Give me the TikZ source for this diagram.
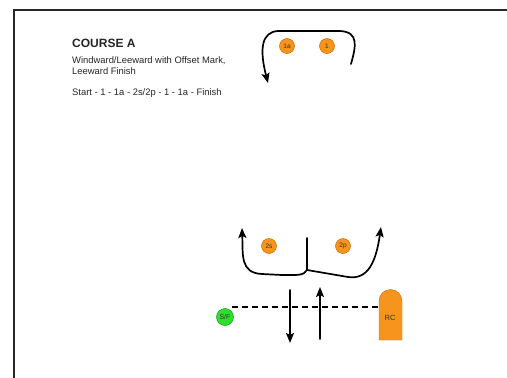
\documentclass[tikz,border=0pt]{standalone}
\usepackage{fontspec}
\setmainfont{Liberation Sans}
\usetikzlibrary{arrows.meta}
\definecolor{mkorange}{HTML}{F7941D}
\definecolor{mkedge}{HTML}{C86E00}
\definecolor{sfgreen}{HTML}{2EE02E}
\definecolor{sfedge}{HTML}{159A15}
\begin{document}
\begin{tikzpicture}[x=1pt,y=-1pt,
  buoy/.style={circle,fill=mkorange,draw=mkedge,line width=0.5pt,minimum size=15pt,inner sep=0pt,font=\fontsize{6.5}{7}\selectfont,text=black!80},
  course/.style={line width=1.7pt,line cap=round},
  crs/.style={course,-{Stealth[length=10pt,width=8pt,inset=2pt]}},
  lbl/.style={anchor=west,inner sep=0pt,text=black!85}]
\useasboundingbox (0,0) rectangle (507,378);
\fill[white] (0,0) rectangle (507,378);
% frame
\draw[line width=2pt,black!85] (507,10) -- (14,10) -- (14,378);
% texts
\node[lbl,font=\bfseries\fontsize{12}{14}\selectfont] (title) at (72,43) {COURSE A};
\node[lbl,font=\fontsize{9.4}{11}\selectfont] (sub1) at (72,61) {Windward/Leeward with Offset Mark,};
\node[lbl,font=\fontsize{9.4}{11}\selectfont] (sub2) at (72,71.5) {Leeward Finish};
\node[lbl,font=\fontsize{9.4}{11}\selectfont] (seq) at (72,93) {Start - 1 - 1a - 2s/2p - 1 - 1a - Finish};
% marks
\node[buoy] (m1a) at (287,46) {1a};
\node[buoy] (m1) at (327,46) {1};
\node[buoy] (m2s) at (269,246) {2s};
\node[buoy] (m2p) at (343,246) {2p};
\node[circle,fill=sfgreen,draw=sfedge,line width=0.5pt,minimum size=17pt,inner sep=0pt,font=\fontsize{7}{8}\selectfont,text=black!80] (sf) at (225,317) {S/F};
% committee boat
\fill[mkorange,draw=mkedge,line width=0.4pt] (379,340) -- (379,301) arc[start angle=180,end angle=360,radius=11.5] -- (402,340) -- cycle;
\node[font=\fontsize{7.5}{8}\selectfont,text=black!80] (rc) at (390,318) {RC};
% named endpoints
\coordinate (s1) at (351,64);
\coordinate (e1) at (268,83);
\coordinate (jtop) at (307,238);
\coordinate (jbot) at (307,270);
\coordinate (e2s) at (242,228);
\coordinate (e2p) at (381,227);
\coordinate (dn1) at (290,290);
\coordinate (dn2) at (290,343);
\coordinate (up1) at (320,339);
\coordinate (up2) at (320,287);
\coordinate (lineL) at (232,307);
\coordinate (lineR) at (379,307);
% start/finish line
\draw[line width=1.4pt,dash pattern=on 6pt off 4pt] (lineL) -- (lineR);
% course legs
\draw[crs] (s1) .. controls (356,46) and (359,32) .. (340,31) -- (278,31) .. controls (262,32) and (259,48) .. (e1);
\draw[course] (jtop) -- (jbot);
\draw[crs] (jbot) .. controls (304,276) and (296,275) .. (282,275) -- (262,274) .. controls (240,273) and (243,255) .. (e2s);
\draw[crs] (jbot) -- (348,277) .. controls (368,280) and (376,262) .. (e2p);
\draw[crs] (dn1) -- (dn2);
\draw[crs] (up1) -- (up2);
\end{tikzpicture}
\end{document}
